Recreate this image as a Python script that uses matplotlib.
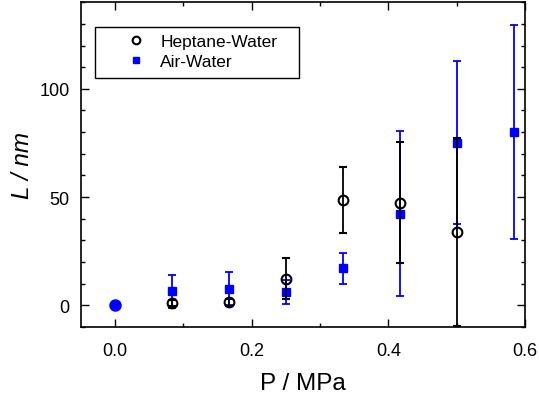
import matplotlib
matplotlib.use("Agg")
import matplotlib.pyplot as plt
import matplotlib.patches as patches
from matplotlib.lines import Line2D
from matplotlib.ticker import MultipleLocator

plt.rcParams["font.family"] = ["Liberation Sans", "DejaVu Sans"]

# pressure steps (MPa)
p_hep = [0.0833, 0.1667, 0.25, 0.3333, 0.4167, 0.5]
L_hep = [1.1, 1.4, 12.3, 48.8, 47.5, 33.9]
err_hep = [1.5, 1.5, 9.5, 15.3, 27.8, 43.4]

p_air = [0.0833, 0.1667, 0.25, 0.3333, 0.4167, 0.5, 0.5833]
L_air = [6.5, 7.6, 6.2, 17.1, 42.3, 75.1, 80.0]
err_air = [7.7, 7.6, 5.4, 7.3, 38.2, 37.7, 49.3]

# common origin point
p0 = [0.0]
L0 = [0.0]

BLUE = "#0000ff"
W, H = 539, 402

fig = plt.figure(figsize=(W / 100, H / 100), dpi=100)
ax = fig.add_axes([0.150, 0.184, 0.824, 0.808])

ax.errorbar(p_hep, L_hep, yerr=err_hep, fmt="o", mfc="none", mec="black",
            mew=1.5, ms=7, ecolor="black", elinewidth=1.3, capsize=3,
            capthick=1.3, zorder=3)
ax.errorbar(p_air, L_air, yerr=err_air, fmt="s", mfc=BLUE, mec=BLUE,
            ms=6, ecolor=BLUE, elinewidth=1.3, capsize=3, capthick=1.3,
            zorder=2)
ax.plot(p0, L0, "o", color=BLUE, ms=8, zorder=4)

ax.set_xlim(-0.05, 0.6)
ax.set_ylim(-10, 140)
ax.xaxis.set_major_locator(MultipleLocator(0.2))
ax.xaxis.set_minor_locator(MultipleLocator(0.1))
ax.yaxis.set_major_locator(MultipleLocator(50))
ax.yaxis.set_minor_locator(MultipleLocator(10))
ax.xaxis.set_major_formatter(plt.FuncFormatter(lambda v, _: f"{v:.1f}"))
ax.tick_params(which="both", direction="in", top=True, right=True,
               labelsize=13, width=1)
ax.tick_params(which="major", length=6)
ax.tick_params(which="minor", length=3)
ax.tick_params(axis="x", pad=11)
ax.tick_params(axis="y", pad=8)
for s in ax.spines.values():
    s.set_linewidth(1.2)

ax.set_xlabel("P / MPa", fontsize=17.5, labelpad=9)
ax.set_ylabel("L / nm", fontsize=17.5, style="italic", labelpad=4)

# legend without its own frame; box drawn separately (wider side padding)
handles = [
    Line2D([], [], ls="none", marker="o", mfc="none", mec="black", mew=1.5,
           ms=5.5, label="Heptane-Water"),
    Line2D([], [], ls="none", marker="s", mfc=BLUE, mec=BLUE, ms=5,
           label="Air-Water"),
]
ax.legend(handles=handles, loc="upper left", bbox_to_anchor=(116 / W, 1 - 35 / H),
          bbox_transform=fig.transFigure, fontsize=12.5, frameon=False,
          handletextpad=0.25, handlelength=2.3, borderpad=0,
          labelspacing=0.28, borderaxespad=0)
fig.patches.append(patches.Rectangle((95 / W, 1 - 79 / H), 204 / W, 51 / H,
                                     transform=fig.transFigure, fill=False,
                                     edgecolor="black", lw=1.0))

fig.savefig("out.png", dpi=100)
